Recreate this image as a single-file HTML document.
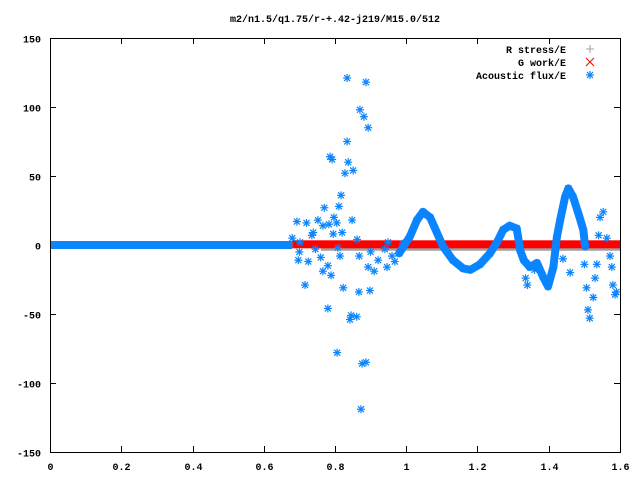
<!DOCTYPE html>
<html><head><meta charset="utf-8"><style>
html,body{margin:0;padding:0;background:#fff;}
svg{display:block;}
text{font-family:"Liberation Mono",monospace;font-size:10px;font-weight:bold;fill:#000;}
</style></head><body>
<svg id="chart" width="640" height="480" xmlns="http://www.w3.org/2000/svg">
<text x="335" y="22" text-anchor="middle">m2/n1.5/q1.75/r-+.42-j219/M15.0/512</text>
<g id="axes"></g>
<g id="series"></g>
<rect x="50.5" y="38.5" width="570" height="414" fill="none" stroke="#000" stroke-width="1"/>
<g id="legend"></g>
</svg>
<script>
const xTicks=[0,0.2,0.4,0.6,0.8,1,1.2,1.4,1.6];
const xTickLabels=["0","0.2","0.4","0.6","0.8","1","1.2","1.4","1.6"];
const yTicks=[-150,-100,-50,0,50,100,150];
const yTickLabels=["-150","-100","-50","0","50","100","150"];
const zeroBandRange=[0,0.68];
const gworkRange=[0.68,1.6];
const gworkLevel=0.5;
const stressRange=[0.76,1.6];
const stressLevel=-2;
const waveX=[0.98,1.01,1.03,1.047,1.067,1.086,1.103,1.131,1.16,1.18,1.207,1.235,1.255,1.272,1.29,1.31,1.32,1.33,1.347,1.367,1.384,1.398,1.413,1.423,1.432,1.446,1.455,1.468,1.483,1.497,1.502];
const waveY=[-6,6,18,24,20,9,-1,-11,-17,-18,-14,-6,2,11,14,12,-4,-11,-16,-13,-23,-30,-16,6,18,35,41,35,23,11,-1];
const scatterX=[0.834,0.887,0.87,0.881,0.893,0.834,0.786,0.792,0.837,0.851,0.828,0.817,0.77,0.811,0.693,0.72,0.752,0.797,0.848,0.766,0.783,0.805,0.739,0.795,0.82,0.68,0.716,0.823,0.867,0.898,0.78,0.845,0.842,0.861,0.806,0.876,0.887,0.873,0.697,0.725,0.76,0.766,0.789,0.78,0.814,0.868,0.893,0.91,0.921,0.946,0.968,0.702,0.735,0.808,0.862,0.949,0.99,0.7,0.745,0.9,0.94,0.96,
1.50,1.506,1.51,1.515,1.53,1.525,1.535,1.54,1.544,1.553,1.563,1.572,1.577,1.58,1.586,1.59,1.335,1.34,1.36,1.44,1.46];
const scatterY=[121,118,98,93,85,75,64,62,60,54,52,36,27,28,17,16,18,20,18,14,15,16,9,8,9,5,-29,-31,-34,-33,-46,-51,-54,-52,-78,-86,-85,-119,-11,-12,-9,-19,-22,-15,-8,-8,-16,-19,-11,-16,-12,2,7,-2,4,2,1,-5,-3,-5,-3,-8,
-14,-31,-47,-53,-24,-38,-14,7,20,24,5,-8,-16,-29,-36,-34,-24,-29,-18,-10,-20];
const NS="http://www.w3.org/2000/svg";
const X0=50,X1=620,Y0=452,Y1=38;
function sx(v){return X0+(v-0)/(1.6-0)*(X1-X0);}
function sy(v){return Y0-(v+150)/300*(Y0-Y1);}
function mk(tag,attrs,parent){const e=document.createElementNS(NS,tag);for(const k in attrs)e.setAttribute(k,attrs[k]);parent.appendChild(e);return e;}
const axes=document.getElementById('axes');
xTicks.forEach((t,i)=>{
  const x=Math.round(sx(t))+0.5;
  const l1=mk('line',{x1:x,x2:x,y1:452,y2:446,stroke:'#000'},axes);
  
  
  const l2=mk('line',{x1:x,x2:x,y1:38,y2:44,stroke:'#000'},axes);
  
  
  const tx=mk('text',{x:x,y:470,'text-anchor':'middle'},axes);
  tx.textContent=xTickLabels[i];
  
  
});
yTicks.forEach((t,i)=>{
  const y=Math.round(sy(t))+0.5;
  const l1=mk('line',{x1:50,x2:56,y1:y,y2:y,stroke:'#000'},axes);
  
  
  const l2=mk('line',{x1:620,x2:614,y1:y,y2:y,stroke:'#000'},axes);
  
  
  const tx=mk('text',{x:41,y:y+4,'text-anchor':'end'},axes);
  tx.textContent=yTickLabels[i];
  
  
});
const ser=document.getElementById('series');
const BLUE='#0a84ff',RED='#ff0000',GREY='#a0a0a0';
function star(x,y,parent,c){
  const g=mk('g',{stroke:c,'stroke-width':1.2},parent);
  mk('line',{x1:x-4,x2:x+4,y1:y,y2:y},g);
  mk('line',{x1:x,x2:x,y1:y-4,y2:y+4},g);
  mk('line',{x1:x-3,x2:x+3,y1:y-3,y2:y+3},g);
  mk('line',{x1:x-3,x2:x+3,y1:y+3,y2:y-3},g);
  return g;
}
// grey R stress band
const gs=mk('rect',{x:sx(stressRange[0]),y:sy(stressLevel)-3,width:sx(stressRange[1])-sx(stressRange[0]),height:6,fill:GREY},ser);


// red G work band
const gw=mk('rect',{x:sx(gworkRange[0]),y:sy(gworkLevel)-4,width:sx(gworkRange[1])-sx(gworkRange[0]),height:8,fill:RED},ser);


// blue zero band
const zb=mk('rect',{x:sx(zeroBandRange[0]),y:sy(0)-4,width:sx(zeroBandRange[1])-sx(zeroBandRange[0]),height:8,fill:BLUE},ser);


// wave
const pts=waveX.map((x,i)=>sx(x)+','+sy(waveY[i])).join(' ');
const wl=mk('polyline',{points:pts,fill:'none',stroke:BLUE,'stroke-width':8,'stroke-linejoin':'round','stroke-linecap':'round'},ser);


waveX.forEach((x,i)=>{
  const g=star(sx(x),sy(waveY[i]),ser,BLUE);
  
  
});
scatterX.forEach((x,i)=>{
  const g=star(sx(x),sy(scatterY[i]),ser,BLUE);
  
  
});
// legend
const lg=document.getElementById('legend');
const legendLabels=["R stress/E","G work/E","Acoustic flux/E"];
const legendColors=[GREY,RED,BLUE];
legendLabels.forEach((lab,i)=>{
  const y=49+i*13;
  const t=mk('text',{x:566,y:y+4,'text-anchor':'end'},lg);
  t.textContent=lab;
  
  
  const cx=590;
  let g;
  if(i===0){g=mk('g',{stroke:GREY},lg);mk('line',{x1:cx-4,x2:cx+4,y1:y,y2:y},g);mk('line',{x1:cx,x2:cx,y1:y-4,y2:y+4},g);}
  else if(i===1){g=mk('g',{stroke:RED},lg);mk('line',{x1:cx-4,x2:cx+4,y1:y-4,y2:y+4},g);mk('line',{x1:cx-4,x2:cx+4,y1:y+4,y2:y-4},g);}
  else{g=star(cx,y,lg,BLUE);}
  
  
});
</script>
</body></html>
